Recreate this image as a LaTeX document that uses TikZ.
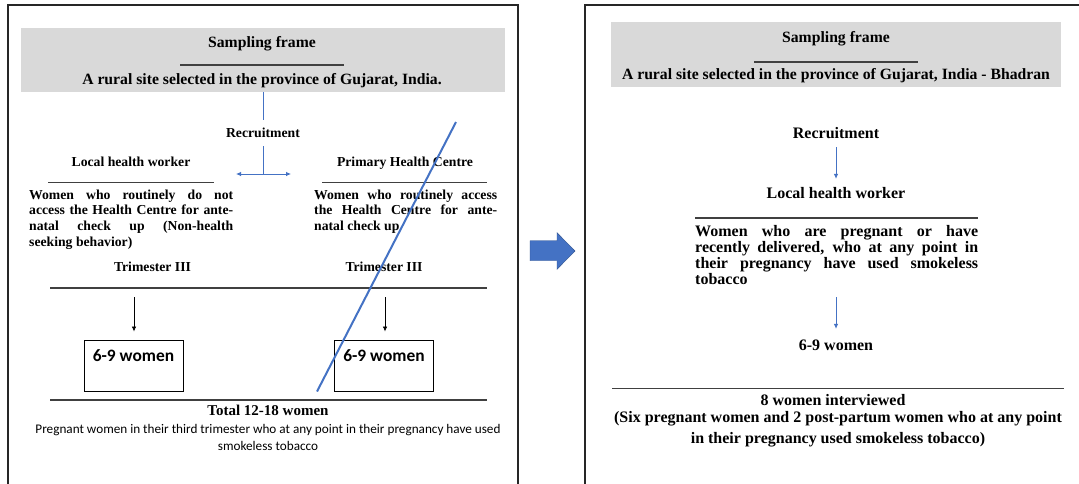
\documentclass[tikz,border=0pt]{standalone}
\usepackage{fontspec}
\setmainfont{Liberation Serif}
\newfontfamily\calib{Carlito}
\usetikzlibrary{arrows.meta}
\definecolor{officeblue}{HTML}{4472C4}
\definecolor{darkblue}{HTML}{2F528F}
\definecolor{framegrey}{HTML}{D9D9D9}
\definecolor{rulegrey}{HTML}{404040}
\newcommand\jline[2]{\makebox[#1][s]{#2}}
\tikzset{
  panel/.style={draw=black!85, line width=1.4pt},
  greybox/.style={fill=framegrey, draw=none, inner sep=0pt},
  rulec/.style={draw=rulegrey, line width=1.1pt},
  thinblue/.style={draw=officeblue, line width=0.8pt},
  bluearrow/.style={draw=officeblue, line width=0.8pt, -{Latex[length=5pt,width=4.5pt]}},
  blackarrow/.style={draw=black, line width=0.7pt, -{Latex[length=5pt,width=4.5pt]}},
  txt/.style={inner sep=0pt, text height=9.5pt, text depth=2.5pt,
    font=\bfseries\fontsize{13.7}{15.8}\selectfont},
  txtR/.style={inner sep=0pt, text height=11pt, text depth=3pt,
    font=\bfseries\fontsize{16}{16}\selectfont},
  head/.style={inner sep=0pt, text height=11pt, text depth=3pt,
    font=\bfseries\fontsize{15.7}{16}\selectfont},
  womenbox/.style={draw=black, line width=1pt, minimum width=99pt, minimum height=51pt, inner sep=0pt},
  sansbig/.style={inner sep=0pt, font=\calib\bfseries\fontsize{17.4}{18}\selectfont},
  sanssmall/.style={inner sep=0pt, font=\calib\fontsize{13.2}{17.5}\selectfont, align=center},
}
\begin{document}
\begin{tikzpicture}[x=1pt,y=-1pt]
\useasboundingbox (0,0) rectangle (1079,483);
\clip (0,0) rectangle (1079,483);
\fill[white] (0,0) rectangle (1079,483);

% ---------- left panel ----------
\draw[panel] (8,495) -- (8,5) -- (518,5) -- (518,495);
\node[greybox, minimum width=484pt, minimum height=64pt] (frameL) at (263,60) {};
\node[head] (sfL) at (262,43) {Sampling frame};
\draw[rulec] (180,65) -- (344,65);
\node[head] (siteL) at (262,80) {A rural site selected in the province of Gujarat, India.};

\node[txt] (recL) at (263,134) {Recruitment};
\draw[thinblue, shorten >=7.5pt] (frameL.south) -- (recL.north);
\coordinate (splitL) at (263,174);
\draw[thinblue, shorten <=6pt] (recL.south) -- (splitL);
\coordinate (toLHW) at (236,174);
\coordinate (toPHC) at (291,174);
\draw[thinblue, {Latex[length=5pt,width=4.5pt]}-{Latex[length=5pt,width=4.5pt]}] (toLHW) -- (toPHC);

\node[txt] (lhwL) at (131,162.5) {Local health worker};
\draw[rulec] (48,182.5) -- (214,182.5);
\node[txt, anchor=base west] (descL) at (29,199) {\parbox[t]{204pt}{\baselineskip=15.9pt
  \jline{204pt}{Women who routinely do not}\\
  \jline{204pt}{access the Health Centre for ante-}\\
  \jline{204pt}{natal check up (Non-health}\\
  seeking behavior)}};

\node[txt] (phc) at (405,162.5) {Primary Health Centre};
\draw[rulec] (322,182.5) -- (487,182.5);
\node[txt, anchor=base west] (descP) at (314,199) {\parbox[t]{183pt}{\baselineskip=15.9pt
  \jline{183pt}{Women who routinely access}\\
  \jline{183pt}{the Health Centre for ante-}\\
  natal check up}};

\node[txt] (triL) at (152.5,267.5) {Trimester III};
\node[txt] (triR) at (384,267.5) {Trimester III};
\draw[rulec] (50,288) -- (486.5,288);

\node[womenbox] (boxL) at (133.5,366) {};
\node[womenbox] (boxR) at (384,366) {};
\node[sansbig] (wL) at (133.5,356) {6-9 women};
\node[sansbig] (wR) at (384,356) {6-9 women};
\coordinate (aL) at (134,297);
\coordinate (aR) at (385,297);
\draw[blackarrow, shorten >=8.5pt] (aL) -- (aL |- boxL.north);
\draw[blackarrow, shorten >=8.5pt] (aR) -- (aR |- boxR.north);

\draw[rulec] (50,400) -- (486.5,400);
\node[inner sep=0pt, text height=10pt, text depth=3pt, font=\bfseries\fontsize{15}{16}\selectfont] (totL) at (268,412) {Total 12-18 women};
\node[sanssmall, anchor=base] (noteL) at (268,450.5) {Pregnant women in their third trimester who at any point in their pregnancy have used\\smokeless tobacco};

% strike-through over the health-centre branch
\coordinate (strikeA) at (456,122);
\coordinate (strikeB) at (317,391.5);
\draw[officeblue, line width=2pt] (strikeA) -- (strikeB);

% ---------- block arrow between panels ----------
\fill[officeblue, draw=darkblue, line width=0.4pt]
  (530,240.7) -- (557,240.7) -- (557,232.7) -- (575,251) -- (557,269.3) -- (557,260.7) -- (530,260.7) -- cycle;

% ---------- right panel ----------
\draw[panel] (585,495) -- (585,5) -- (1090,5) -- (1090,495);
\node[greybox, minimum width=450pt, minimum height=65pt] (frameR) at (836,54.5) {};
\node[head] (sfR) at (836,38) {Sampling frame};
\draw[rulec] (754,62) -- (918,62);
\node[head] (siteR) at (836,75.6) {A rural site selected in the province of Gujarat, India - Bhadran};

\node[txtR] (recR) at (836,134) {Recruitment};
\node[txtR] (lhwR) at (836,194) {Local health worker};
\draw[bluearrow, shorten <=6pt, shorten >=8pt] (recR.south) -- (lhwR.north);
\draw[rulec] (695,218) -- (978,218);
\node[txtR, anchor=base west] (descR) at (695,236) {\parbox[t]{283pt}{\baselineskip=16pt
  \jline{283pt}{Women who are pregnant or have}\\
  \jline{283pt}{recently delivered, who at any point in}\\
  \jline{283pt}{their pregnancy have used smokeless}\\
  tobacco}};
\node[txtR] (w69R) at (836,346) {6-9 women};
\coordinate (aRR) at (836,297);
\draw[bluearrow, shorten >=10pt] (aRR) -- (w69R.north);

\draw[rulec] (612,388.5) -- (1064,388.5);
\node[txtR] (intR) at (833,401.5) {8 women interviewed};
\node[txtR, anchor=base, align=center, font=\bfseries\fontsize{16}{20.3}\selectfont] (noteR) at (838,443) {(Six pregnant women and 2 post-partum women who at any point\\in their pregnancy used smokeless tobacco)};
\end{tikzpicture}
\end{document}
